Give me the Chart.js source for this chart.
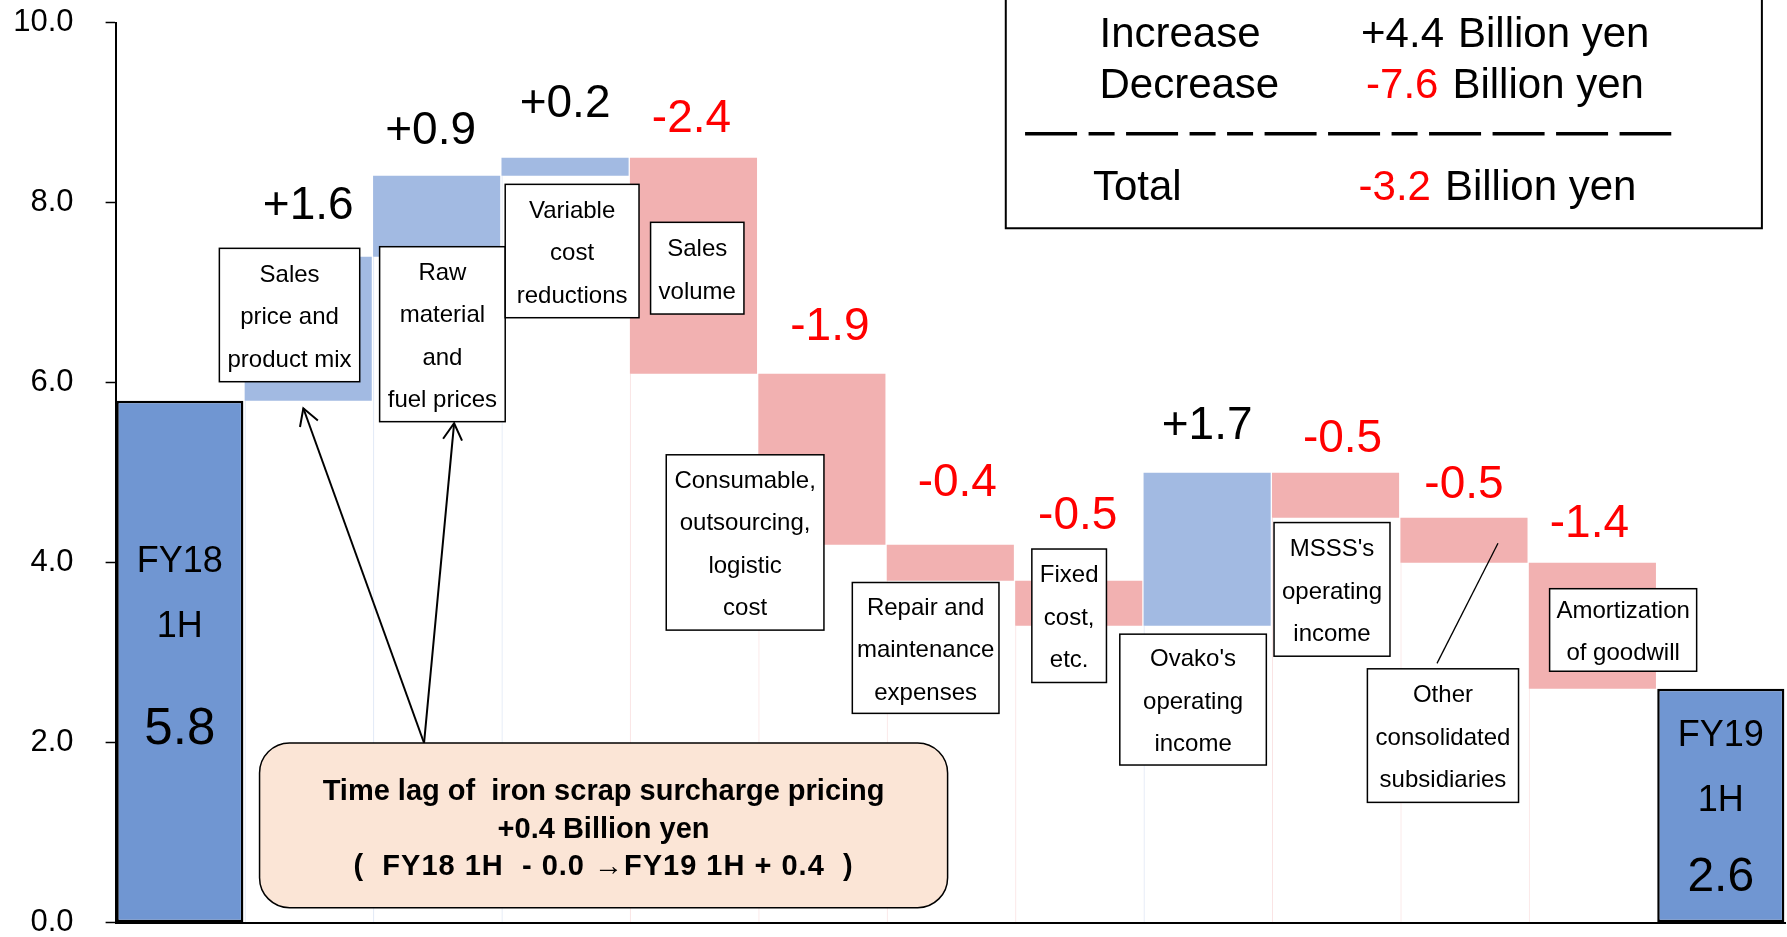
<!DOCTYPE html>
<html>
<head>
<meta charset="utf-8">
<title>Operating income bridge: FY18 1H to FY19 1H</title>
<script src="https://cdn.jsdelivr.net/npm/chart.js@4/dist/chart.umd.min.js"></script>
<style>
  html, body { margin: 0; padding: 0; background: #fff; }
  #wrap { width: 1787px; height: 937px; position: relative; }
</style>
</head>
<body>
<div id="wrap"><canvas id="bridge"></canvas></div>
<script>
// ---------- data (billion yen) ----------
const categories = [
  'FY18 1H',
  'Sales price and product mix',
  'Raw material and fuel prices',
  'Variable cost reductions',
  'Sales volume',
  'Consumable, outsourcing, logistic cost',
  'Repair and maintenance expenses',
  'Fixed cost, etc.',
  "Ovako's operating income",
  "MSSS's operating income",
  'Other consolidated subsidiaries',
  'Amortization of goodwill',
  'FY19 1H'
];
const openingValue = 5.8;
const closingValue = 2.6;
const changes = [1.6, 0.9, 0.2, -2.4, -1.9, -0.4, -0.5, 1.7, -0.5, -0.5, -1.4];
const yTicks = [0, 2, 4, 6, 8, 10];

// text of the white caption boxes, one entry per category
const boxLines = [
  null,
  ['Sales', 'price and', 'product mix'],
  ['Raw', 'material', 'and', 'fuel prices'],
  ['Variable', 'cost', 'reductions'],
  ['Sales', 'volume'],
  ['Consumable,', 'outsourcing,', 'logistic', 'cost'],
  ['Repair and', 'maintenance', 'expenses'],
  ['Fixed', 'cost,', 'etc.'],
  ["Ovako's", 'operating', 'income'],
  ["MSSS's", 'operating', 'income'],
  ['Other', 'consolidated', 'subsidiaries'],
  ['Amortization', 'of goodwill'],
  null
];
const calloutLines = [
  'Time lag of  iron scrap surcharge pricing',
  '+0.4 Billion yen',
  '(  FY18 1H  - 0.0 \u2192FY19 1H + 0.4  )'
];

// ---------- derived running totals ----------
const levels = [openingValue];
changes.forEach(c => levels.push(Math.round((levels[levels.length - 1] + c) * 10) / 10));
const lastIdx = categories.length - 1;
const isTotal = k => k === 0 || k === lastIdx;

const barRanges = categories.map((_, k) => {
  if (k === 0) return [0, openingValue];
  if (k === lastIdx) return [0, closingValue];
  return [levels[k - 1], levels[k]];
});
const baseRanges = categories.map((_, k) =>
  isTotal(k) ? null : [0, Math.min(levels[k - 1], levels[k])]);

// ---------- styling ----------
const FONT = "'Liberation Sans', Arial, Helvetica, sans-serif";
const TOTAL_COLOR = '#7096D2';
const UP_COLOR = '#A2BAE2';
const DOWN_COLOR = '#F2B1B1';
const UP_EDGE = 'rgba(162,186,226,0.35)';
const DOWN_EDGE = 'rgba(242,177,177,0.35)';
const RED = '#FF0000';

const barColor = k => isTotal(k) ? TOTAL_COLOR : (changes[k - 1] > 0 ? UP_COLOR : DOWN_COLOR);
const edgeColor = k => isTotal(k) ? 'rgba(0,0,0,0)' : (changes[k - 1] > 0 ? UP_EDGE : DOWN_EDGE);

// ---------- annotation layout (x in category units, y in axis units) ----------
const valueLabelPlacement = [
  { dx: 0, lift: 38 }, { dx: -6, lift: 32 }, { dx: 0, lift: 41 }, { dx: -2, lift: 26 },
  { dx: 8, lift: 34 }, { dx: 7, lift: 49 }, { dx: -1, lift: 52 }, { dx: 0, lift: 34 },
  { dx: 7, lift: 21 }, { dx: 0, lift: 20 }, { dx: -3, lift: 26 }
];
const noteBoxes = [
  null,
  { x0: 0.308, x1: 1.401, y0: 7.493, y1: 6.011 },
  { x0: 1.556, x1: 2.534, y0: 7.511, y1: 5.567 },
  { x0: 2.534, x1: 3.576, y0: 8.204, y1: 6.722 },
  { x0: 3.666, x1: 4.393, y0: 7.782, y1: 6.763 },
  { x0: 3.788, x1: 5.016, y0: 5.199, y1: 3.251 },
  { x0: 5.237, x1: 6.379, y0: 3.780, y1: 2.326 },
  { x0: 6.635, x1: 7.216, y0: 4.152, y1: 2.669 },
  { x0: 7.320, x1: 8.461, y0: 3.206, y1: 1.752 },
  { x0: 8.521, x1: 9.424, y0: 4.446, y1: 2.961 },
  { x0: 9.248, x1: 10.425, y0: 2.821, y1: 1.337 },
  { x0: 10.667, x1: 11.812, y0: 3.711, y1: 2.794 },
  null
];
const otherLeader = { from: [9.790, 2.881], to: [10.265, 4.217] };
const callout = { x0: 0.621, x1: 5.979, y0: 1.997, y1: 0.167, radius: 30, baselines: [57, 95.5, 132] };
const calloutArrows = { origin: [1.902, 1.997], tips: [[0.962, 5.716], [2.136, 5.549]] };
const totalText = [
  { k: 0, value: openingValue, ys: [4.008, 3.289, 2.147], big: 51 },
  { k: lastIdx, value: closingValue, ys: [2.073, 1.349, 0.494], big: 48 }
];
const summaryPanel = { x0: 6.432, x1: 12.320, yBottom: 7.716 };

function arrow(ctx, x0, y0, x1, y1) {
  ctx.beginPath();
  ctx.moveTo(x0, y0);
  ctx.lineTo(x1, y1);
  ctx.stroke();
  const a = Math.atan2(y0 - y1, x0 - x1);
  const len = 19, spread = Math.PI / 6;
  ctx.beginPath();
  ctx.moveTo(x1 + len * Math.cos(a - spread), y1 + len * Math.sin(a - spread));
  ctx.lineTo(x1, y1);
  ctx.lineTo(x1 + len * Math.cos(a + spread), y1 + len * Math.sin(a + spread));
  ctx.stroke();
}

function roundRect(ctx, l, t, w, h, r) {
  ctx.beginPath();
  ctx.moveTo(l + r, t);
  ctx.lineTo(l + w - r, t);
  ctx.arcTo(l + w, t, l + w, t + r, r);
  ctx.lineTo(l + w, t + h - r);
  ctx.arcTo(l + w, t + h, l + w - r, t + h, r);
  ctx.lineTo(l + r, t + h);
  ctx.arcTo(l, t + h, l, t + h - r, r);
  ctx.lineTo(l, t + r);
  ctx.arcTo(l, t, l + r, t, r);
  ctx.closePath();
}

const bridgeOverlay = {
  id: 'bridgeOverlay',
  afterDatasetsDraw(chart) {
    const { ctx, scales: { x, y } } = chart;
    const X = v => x.getPixelForValue(v);
    const Y = v => y.getPixelForValue(v);
    ctx.save();

    // change amounts above each floating bar
    ctx.textAlign = 'center';
    ctx.textBaseline = 'alphabetic';
    ctx.font = `46px ${FONT}`;
    changes.forEach((c, i) => {
      const k = i + 1;
      const top = Math.max(levels[k - 1], levels[k]);
      const p = valueLabelPlacement[i];
      ctx.fillStyle = c < 0 ? RED : '#000';
      ctx.fillText((c > 0 ? '+' : '') + c.toFixed(1), X(k) + p.dx, Y(top) - p.lift);
    });

    // period name and amount inside the two total bars
    ctx.textBaseline = 'middle';
    ctx.fillStyle = '#000';
    totalText.forEach(t => {
      const [fy, half] = categories[t.k].split(' ');
      ctx.font = `36px ${FONT}`;
      ctx.fillText(fy, X(t.k), Y(t.ys[0]));
      ctx.fillText(half, X(t.k), Y(t.ys[1]));
      ctx.font = `${t.big}px ${FONT}`;
      ctx.fillText(t.value.toFixed(1), X(t.k), Y(t.ys[2]));
    });

    // leader line to the "other subsidiaries" bar
    ctx.strokeStyle = '#000';
    ctx.lineWidth = 1.3;
    ctx.beginPath();
    ctx.moveTo(X(otherLeader.from[0]), Y(otherLeader.from[1]));
    ctx.lineTo(X(otherLeader.to[0]), Y(otherLeader.to[1]));
    ctx.stroke();

    // caption boxes
    ctx.font = `24px ${FONT}`;
    boxLines.forEach((lines, k) => {
      if (!lines) return;
      const b = noteBoxes[k];
      const l = X(b.x0), r = X(b.x1), t = Y(b.y0), bt = Y(b.y1);
      ctx.fillStyle = '#fff';
      ctx.fillRect(l, t, r - l, bt - t);
      ctx.lineWidth = 1.5;
      ctx.strokeStyle = '#000';
      ctx.strokeRect(l, t, r - l, bt - t);
      ctx.fillStyle = '#000';
      const cx = (l + r) / 2, cy = (t + bt) / 2 + 2.5;
      lines.forEach((s, j) => ctx.fillText(s, cx, cy + (j - (lines.length - 1) / 2) * 42.5));
    });

    // arrows from the surcharge note to the two price items
    ctx.lineWidth = 2;
    ctx.strokeStyle = '#000';
    const ox = X(calloutArrows.origin[0]), oy = Y(calloutArrows.origin[1]);
    calloutArrows.tips.forEach(tp => arrow(ctx, ox, oy, X(tp[0]), Y(tp[1])));

    // surcharge note
    const cl = X(callout.x0), cr = X(callout.x1), ct = Y(callout.y0), cb = Y(callout.y1);
    roundRect(ctx, cl, ct, cr - cl, cb - ct, callout.radius);
    ctx.fillStyle = '#FBE5D6';
    ctx.fill();
    ctx.lineWidth = 1.5;
    ctx.stroke();
    ctx.fillStyle = '#000';
    ctx.font = `bold 29px ${FONT}`;
    ctx.textBaseline = 'alphabetic';
    const ccx = (cl + cr) / 2;
    calloutLines.forEach((s, j) => {
      ctx.letterSpacing = j === 2 ? '1px' : '0px';
      ctx.fillText(s, ccx, ct + callout.baselines[j]);
    });
    ctx.letterSpacing = '0px';

    // summary panel: increases, decreases, net
    const inc = changes.filter(c => c > 0).reduce((a, b) => a + b, 0);
    const dec = changes.filter(c => c < 0).reduce((a, b) => a + b, 0);
    const net = inc + dec;
    const pl = X(summaryPanel.x0), pr = X(summaryPanel.x1), pb = Y(summaryPanel.yBottom);
    ctx.fillStyle = '#fff';
    ctx.fillRect(pl, -5, pr - pl, pb + 5);
    ctx.lineWidth = 2;
    ctx.strokeStyle = '#000';
    ctx.strokeRect(pl, -5, pr - pl, pb + 5);

    ctx.textAlign = 'left';
    ctx.textBaseline = 'alphabetic';
    ctx.font = `42px ${FONT}`;
    const rows = [
      { name: 'Increase', nx: 93.7, vx: 355.3, dy: -181.6, text: '+' + inc.toFixed(1), color: '#000' },
      { name: 'Decrease', nx: 93.7, vx: 360.3, dy: -130.0, text: dec.toFixed(1), color: RED },
      { name: 'Total', nx: 87.2, vx: 352.8, dy: -28.3, text: net.toFixed(1), color: net < 0 ? RED : '#000' }
    ];
    rows.forEach(r => {
      ctx.fillStyle = '#000';
      ctx.fillText(r.name, pl + r.nx, pb + r.dy);
      ctx.fillStyle = r.color;
      ctx.fillText(r.text, pl + r.vx, pb + r.dy);
      const w = ctx.measureText(r.text).width;
      ctx.fillStyle = '#000';
      ctx.fillText('Billion yen', pl + r.vx + w + 14, pb + r.dy);
    });

    // separator above the total row
    ctx.lineWidth = 3.5;
    ctx.setLineDash([52, 11.5, 26, 11.5, 52, 11.5, 26, 11.5, 26, 11.5, 52, 11.5,
                     52, 11.5, 26, 11.5, 52, 11.5, 52, 11.5, 52, 11.5, 52, 11.5]);
    ctx.beginPath();
    ctx.moveTo(pl + 19.3, pb - 94.6);
    ctx.lineTo(pl + 665.5, pb - 94.6);
    ctx.stroke();
    ctx.setLineDash([]);

    ctx.restore();
  }
};

new Chart(document.getElementById('bridge'), {
  type: 'bar',
  data: {
    labels: categories,
    datasets: [
      {
        label: 'Operating income',
        data: barRanges,
        grouped: false,
        backgroundColor: ctx => barColor(ctx.dataIndex),
        borderColor: '#000',
        borderWidth: ctx => isTotal(ctx.dataIndex) ? 2.5 : 0,
        borderSkipped: false,
        barPercentage: 0.99,
        categoryPercentage: 1
      },
      {
        label: 'base',
        data: baseRanges,
        grouped: false,
        backgroundColor: 'rgba(0,0,0,0)',
        borderColor: ctx => edgeColor(ctx.dataIndex),
        borderWidth: { left: 1, right: 0, top: 0, bottom: 0 },
        borderSkipped: false,
        barPercentage: 0.99,
        categoryPercentage: 1
      }
    ]
  },
  options: {
    responsive: true,
    maintainAspectRatio: false,
    devicePixelRatio: 1,
    animation: false,
    events: [],
    layout: { padding: { left: 15, right: 2, top: 22.7, bottom: 14.3 } },
    plugins: { legend: { display: false }, tooltip: { enabled: false } },
    scales: {
      x: {
        type: 'category',
        grid: { display: false, drawTicks: false },
        ticks: { display: false },
        border: { display: true, color: '#000', width: 2 },
        afterFit: s => { s.height = 0; s.paddingLeft = 0; s.paddingRight = 0; }
      },
      y: {
        min: 0,
        max: 10,
        afterBuildTicks: s => { s.ticks = yTicks.map(v => ({ value: v })); },
        afterFit: s => { s.width = 100.6; s.paddingTop = 0; s.paddingBottom = 0; },
        ticks: {
          callback: v => Number(v).toFixed(1),
          color: '#000',
          padding: 32,
          font: { family: FONT, size: 31, lineHeight: 0.9 }
        },
        grid: { display: true, drawOnChartArea: false, drawTicks: true, tickLength: 10, tickColor: '#000', tickWidth: 1.5 },
        border: { display: true, color: '#000', width: 2 }
      }
    }
  },
  plugins: [bridgeOverlay]
});
</script>
</body>
</html>
